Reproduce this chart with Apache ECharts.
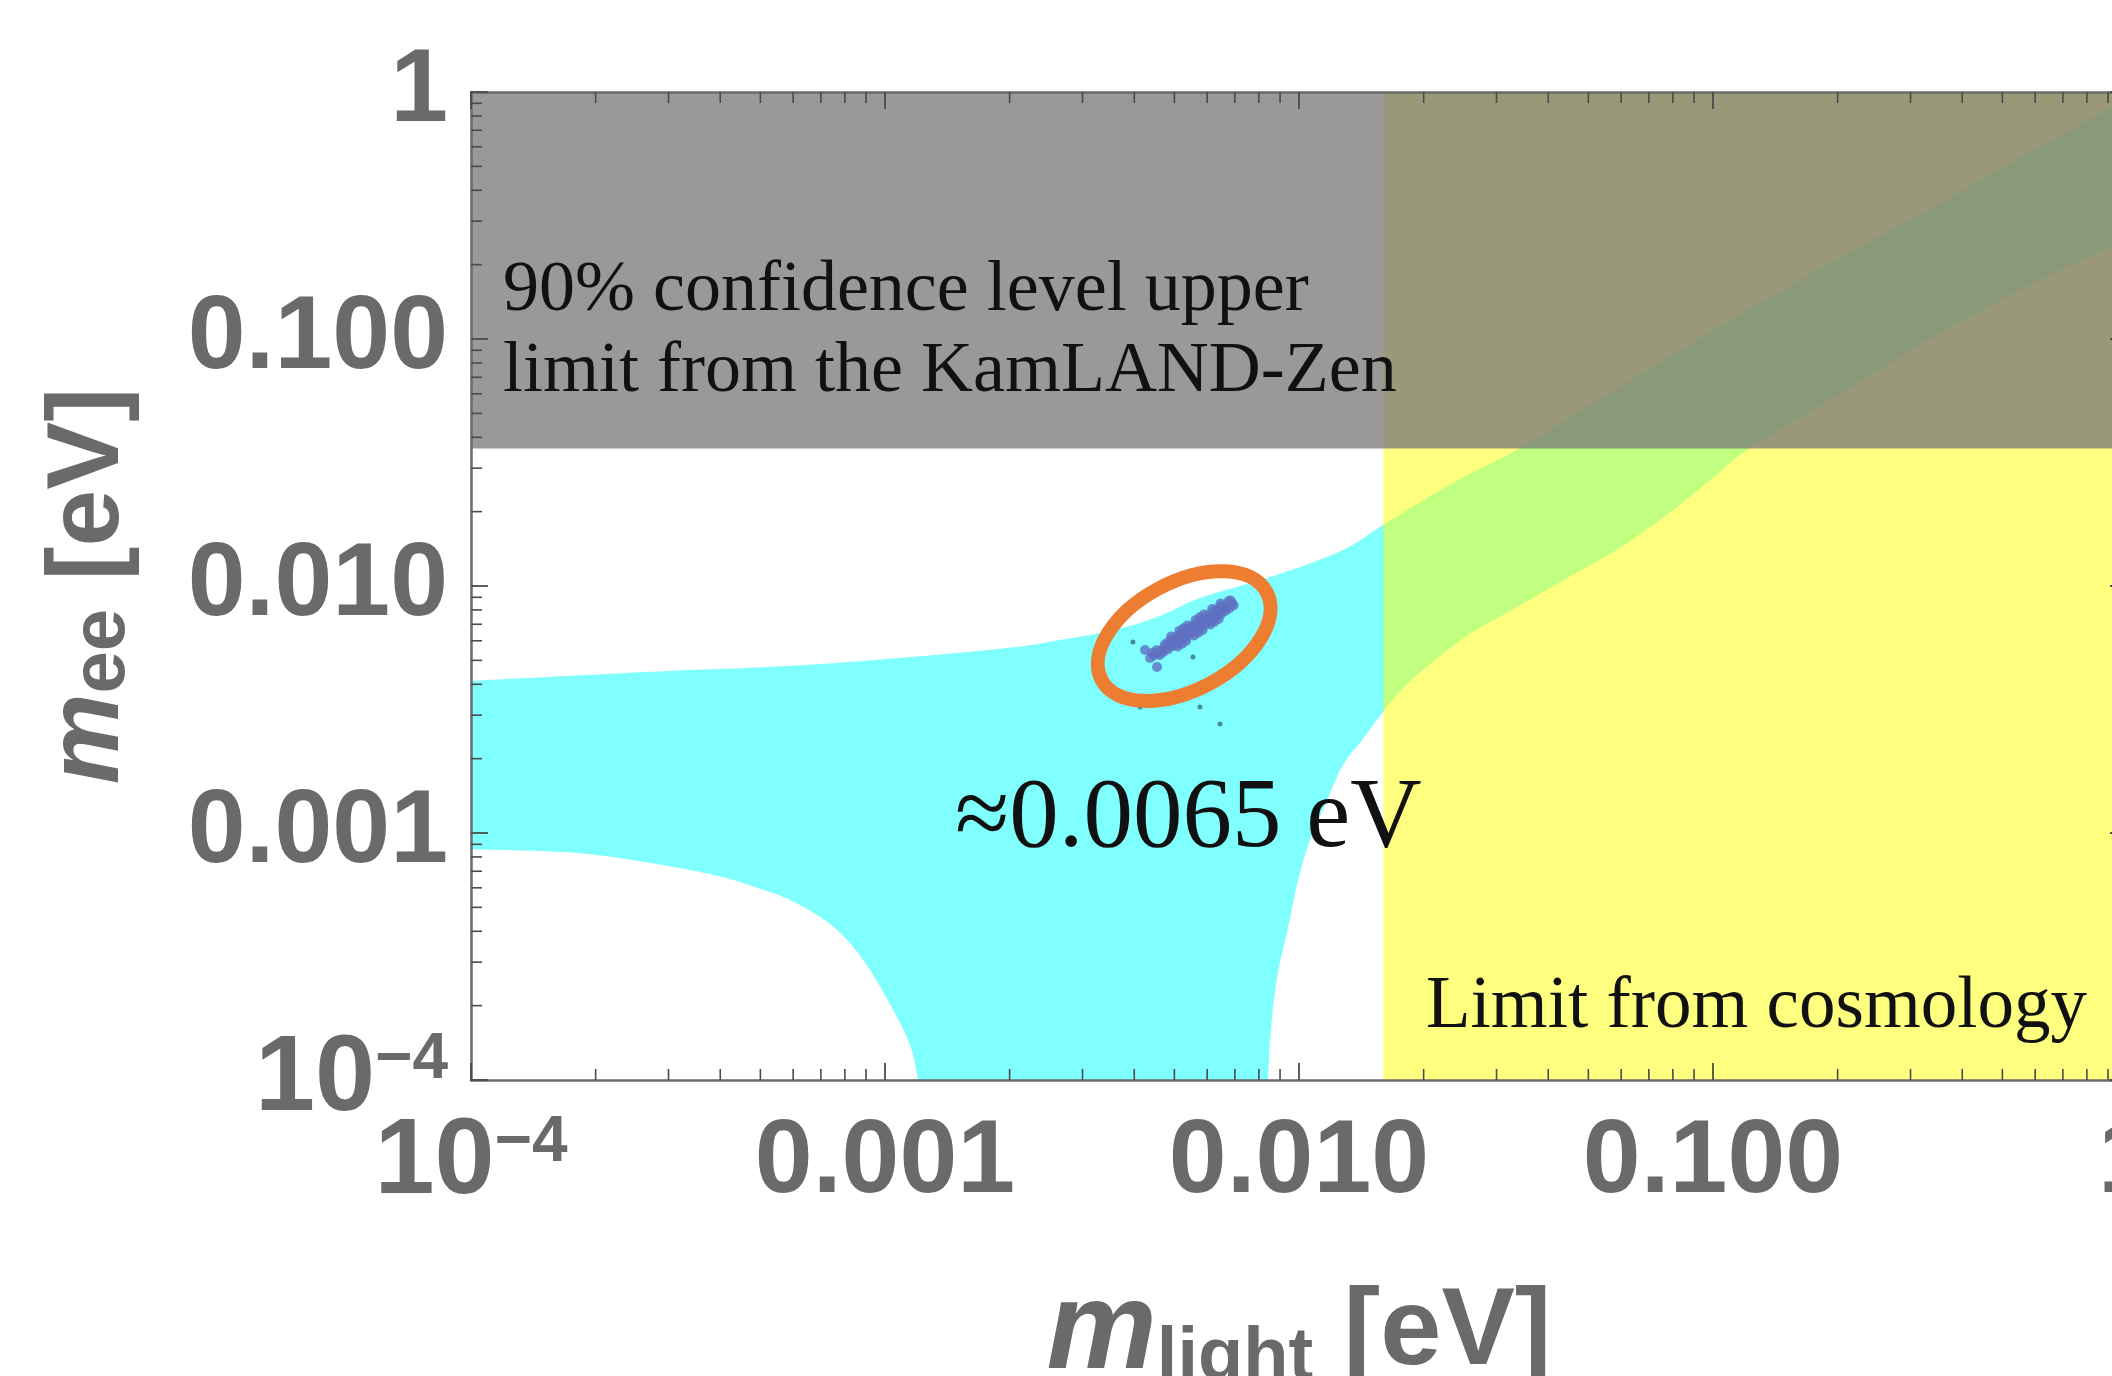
<!DOCTYPE html>
<html>
<head>
<meta charset="utf-8">
<title>m_ee vs m_light</title>
<script src="https://cdn.jsdelivr.net/npm/echarts@6.0.0/dist/echarts.min.js"></script>
<style>
  html, body { margin: 0; padding: 0; background: #fff; }
  #chart { width: 2112px; height: 1376px; }
</style>
</head>
<body>
<div id="chart"></div>
<script>
  // tick values and labels (both axes are log10, 1e-4 .. 1 eV)
  const tickValues = [1e-4, 1e-3, 1e-2, 1e-1, 1];
  const xTickLabels = ['{b|10}{sup|−4}', '0.001', '0.010', '0.100', '1'];
  const yTickLabels = ['{b|10}{sup|−4}', '0.001', '0.010', '0.100', '1'];
  const minorMantissas = [2, 3, 4, 5, 6, 7, 8, 9];
  const minorDecades = [1e-4, 1e-3, 1e-2, 1e-1];

  // allowed band, [m_light, m_ee] in eV
  const bandUpper = [
    [1e-4, 0.004124], [2.647e-4, 0.004485], [7.045e-4, 0.004833], [0.001875, 0.005556],
    [0.002647, 0.006044], [0.003594, 0.006636], [0.004616, 0.00756], [0.005765, 0.008943],
    [0.008511, 0.01087], [0.01256, 0.0138], [0.01595, 0.01766], [0.02061, 0.02293],
    [0.02603, 0.02868], [0.03418, 0.0362], [0.07447, 0.08069], [0.1622, 0.1733],
    [0.3534, 0.3553], [0.6775, 0.6574], [1, 0.937]
  ];
  const bandLowerRight = [
    [1, 0.2564], [0.92, 0.2379], [0.5963, 0.1685], [0.3534, 0.1057], [0.2107, 0.06216],
    [0.1229, 0.0362], [0.1006, 0.02762], [0.08006, 0.02031], [0.05995, 0.01438],
    [0.04489, 0.01087], [0.03362, 0.008222], [0.02603, 0.006451], [0.02131, 0.005017],
    [0.01793, 0.003901], [0.01595, 0.00309], [0.0142, 0.002379], [0.01277, 0.001885],
    [0.01156, 0.001298], [0.01063, 9.368e-4], [0.009945, 6.452e-4], [0.009406, 4.124e-4],
    [0.008848, 2.588e-4], [0.008557, 1.609e-4], [0.008417, 1e-4]
  ];
  const bandLowerLeft = [
    [0.001202, 1e-4], [0.00115, 1.381e-4], [0.001042, 1.946e-4], [9.15e-4, 2.829e-4],
    [8.031e-4, 3.747e-4], [7.049e-4, 4.519e-4], [5.988e-4, 5.28e-4], [5.085e-4, 5.888e-4],
    [3.669e-4, 6.888e-4], [1.911e-4, 8.222e-4], [1e-4, 8.566e-4]
  ];

  const kamlandLimit = 0.036;   // m_ee upper limit
  const cosmologyLimit = 0.016; // m_light upper limit

  // scan points
  const scanPoints = [
    [0.00437, 0.00511], [0.00447, 0.00524], [0.00457, 0.00538], [0.00467, 0.00552],
    [0.00478, 0.00566], [0.00489, 0.00581], [0.005, 0.00596], [0.00512, 0.00612],
    [0.00524, 0.00628], [0.00536, 0.00644], [0.00548, 0.00661], [0.00561, 0.00678],
    [0.00574, 0.00695], [0.00587, 0.00713], [0.006, 0.00732], [0.00614, 0.00751],
    [0.00628, 0.0077], [0.00643, 0.0079], [0.00658, 0.00811], [0.00673, 0.00832],
    [0.00689, 0.00854],
    [0.00461, 0.00526], [0.00453, 0.0055], [0.00482, 0.00553], [0.00474, 0.00579],
    [0.00505, 0.00582], [0.00496, 0.0061], [0.00529, 0.00614], [0.00519, 0.00643],
    [0.00553, 0.00646], [0.00543, 0.00676], [0.00579, 0.00679], [0.00569, 0.00711],
    [0.00606, 0.00715], [0.00595, 0.00749], [0.00634, 0.00752], [0.00622, 0.00788],
    [0.00664, 0.00792], [0.00652, 0.0083], [0.00679, 0.00813], [0.00683, 0.00874],
    [0.00522, 0.00584], [0.00526, 0.00675], [0.00571, 0.00647], [0.00576, 0.00747],
    [0.00625, 0.00717], [0.004246, 0.005508], [0.004539, 0.004699],
    [0.00695, 0.00835], [0.00675, 0.00865],
    [0.00492, 0.00569], [0.00484, 0.00594], [0.00516, 0.00599], [0.00507, 0.00625],
    [0.0054, 0.0063], [0.00531, 0.0066], [0.00566, 0.00662], [0.00556, 0.00694],
    [0.00592, 0.00697], [0.00582, 0.0073], [0.0062, 0.00733], [0.00608, 0.00768],
    [0.00648, 0.00771], [0.00637, 0.00809], [0.00442, 0.00535], [0.0047, 0.00541],
    [0.00509, 0.00569], [0.00491, 0.00624], [0.00534, 0.00599], [0.00514, 0.00658],
    [0.00558, 0.00631], [0.00538, 0.00692], [0.00585, 0.00663], [0.00563, 0.00728],
    [0.00611, 0.00699], [0.00589, 0.00767], [0.0064, 0.00735], [0.00617, 0.00807],
    [0.00646, 0.0085]
  ];
  const strayPoints = [
    [0.003972, 0.005935], [0.005546, 0.00516], [0.00413, 0.003236],
    [0.005765, 0.003236], [0.006446, 0.002762]
  ];
  const ellipseCenter = [0.00528, 0.00627];

  const xMin = 1e-4, xMax = 1, yMin = 1e-4, yMax = 1;
  const axisColor = '#6b6b6b';
  const tickColor = '#4a4a4a';
  const labelColor = '#6a6a6a';
  const sans = '"Liberation Sans", Arial, sans-serif';
  const serif = '"Liberation Serif", "Times New Roman", serif';

  const minorTicks = [];
  minorDecades.forEach(function (d) {
    minorMantissas.forEach(function (m) { minorTicks.push(m * d); });
  });

  function tickFormatter(labels) {
    return function (v) {
      const i = tickValues.findIndex(function (t) {
        return Math.abs(Math.log10(t) - Math.log10(v)) < 1e-6;
      });
      return i >= 0 ? labels[i] : '';
    };
  }

  const labelRich = {
    b: { fontSize: 108, lineHeight: 104, fontWeight: 'bold', fontFamily: sans, color: labelColor },
    sup: { fontSize: 64, lineHeight: 56, fontWeight: 'bold', fontFamily: sans, color: labelColor, verticalAlign: 'top' }
  };

  // catmull-rom through pixel points, as path commands
  function smoothSection(p, first) {
    let d = (first ? 'M' : 'L') + p[0][0] + ' ' + p[0][1];
    for (let i = 0; i < p.length - 1; i++) {
      const p0 = p[i - 1] || p[i], p1 = p[i], p2 = p[i + 1], p3 = p[i + 2] || p[i + 1];
      d += ' C' + (p1[0] + (p2[0] - p0[0]) / 6) + ' ' + (p1[1] + (p2[1] - p0[1]) / 6) +
        ' ' + (p2[0] - (p3[0] - p1[0]) / 6) + ' ' + (p2[1] - (p3[1] - p1[1]) / 6) +
        ' ' + p2[0] + ' ' + p2[1];
    }
    return d;
  }

  function rectItem(x0, y0, x1, y1, color) {
    return function (params, api) {
      const a = api.coord([x0, y0]);
      const b = api.coord([x1, y1]);
      return {
        type: 'rect',
        shape: {
          x: Math.min(a[0], b[0]), y: Math.min(a[1], b[1]),
          width: Math.abs(b[0] - a[0]), height: Math.abs(b[1] - a[1])
        },
        style: { fill: color }
      };
    };
  }

  const minorLen = 11;
  const minorStyle = { stroke: tickColor, lineWidth: 1.6 };

  function axisBase(extra) {
    return Object.assign({
      type: 'log', logBase: 10, z: 10,
      axisLine: { show: true, lineStyle: { color: axisColor, width: 2.5 } },
      axisTick: { show: true, inside: true, length: 17, lineStyle: { color: tickColor, width: 1.8 } },
      splitLine: { show: false },
      axisLabel: { show: false }
    }, extra);
  }

  const chart = echarts.init(document.getElementById('chart'));
  const option = {
    animation: false,
    backgroundColor: '#fff',
    grid: { left: 471, top: 92, width: 1656, height: 988, outerBoundsMode: 'none' },
    xAxis: [
      axisBase({
        min: xMin, max: xMax, position: 'bottom',
        axisLabel: {
          margin: 31, color: labelColor, fontFamily: sans, fontWeight: 'bold', fontSize: 104,
          showMinLabel: true, showMaxLabel: true,
          formatter: tickFormatter(xTickLabels), rich: labelRich
        },
        name: '{m|m}{sub|light}{n| [eV]}',
        nameLocation: 'middle',
        nameGap: 192,
        nameTextStyle: {
          rich: {
            m: { fontSize: 124, fontWeight: 'bold', fontStyle: 'italic', fontFamily: sans, color: labelColor },
            sub: { fontSize: 74, lineHeight: 54, fontWeight: 'bold', fontFamily: sans, color: labelColor, verticalAlign: 'bottom' },
            n: { fontSize: 110, fontWeight: 'bold', fontFamily: sans, color: labelColor }
          }
        }
      }),
      axisBase({ min: xMin, max: xMax, position: 'top' })
    ],
    yAxis: [
      axisBase({
        min: yMin, max: yMax, position: 'left',
        axisLabel: {
          margin: 23, color: labelColor, fontFamily: sans, fontWeight: 'bold', fontSize: 104,
          showMinLabel: true, showMaxLabel: true,
          formatter: tickFormatter(yTickLabels), rich: labelRich
        },
        name: '{m|m}{sub|ee}{n| [eV]}',
        nameLocation: 'middle',
        nameGap: 330,
        nameTextStyle: {
          rich: {
            m: { fontSize: 102, fontWeight: 'bold', fontStyle: 'italic', fontFamily: sans, color: labelColor },
            sub: { fontSize: 76, lineHeight: 60, fontWeight: 'bold', fontFamily: sans, color: labelColor, verticalAlign: 'bottom' },
            n: { fontSize: 102, fontWeight: 'bold', fontFamily: sans, color: labelColor }
          }
        }
      }),
      axisBase({ min: yMin, max: yMax, position: 'right' })
    ],
    series: [
      {
        // allowed band
        type: 'custom', z: 1, silent: true,
        data: [bandUpper[0]],
        renderItem: function (params, api) {
          const toPx = function (p) { return api.coord(p); };
          const d = smoothSection(bandUpper.map(toPx), true) + ' ' +
            smoothSection(bandLowerRight.map(toPx), false) + ' ' +
            smoothSection(bandLowerLeft.map(toPx), false) + ' Z';
          return { type: 'path', shape: { pathData: d }, style: { fill: '#80ffff' } };
        }
      },
      {
        // cosmology
        type: 'custom', z: 2, silent: true,
        data: [[cosmologyLimit, yMin]],
        renderItem: rectItem(cosmologyLimit, yMin, xMax, yMax, 'rgba(255,255,0,0.5)')
      },
      {
        // KamLAND-Zen
        type: 'custom', z: 3, silent: true,
        data: [[xMin, kamlandLimit]],
        renderItem: rectItem(xMin, kamlandLimit, xMax, yMax, 'rgba(120,120,120,0.756)')
      },
      {
        type: 'scatter', z: 5, silent: true,
        symbolSize: 10,
        itemStyle: { color: '#5f70c2' },
        data: scanPoints
      },
      {
        type: 'scatter', z: 5, silent: true,
        symbolSize: 5,
        itemStyle: { color: '#3d6a99' },
        data: strayPoints
      },
      {
        type: 'custom', z: 6, silent: true,
        data: [ellipseCenter],
        renderItem: function (params, api) {
          const c = api.coord(ellipseCenter);
          return {
            type: 'ellipse',
            x: c[0], y: c[1],
            rotation: 28 * Math.PI / 180,
            shape: { cx: 0, cy: 0, rx: 93.5, ry: 54 },
            style: { fill: 'none', stroke: '#ed7d31', lineWidth: 14 }
          };
        }
      },
      {
        // minor x ticks, bottom and top
        type: 'custom', z: 11, silent: true,
        data: minorTicks.map(function (v) { return [v, yMin]; }),
        renderItem: function (params, api) {
          const v = api.value(0);
          const b = api.coord([v, yMin]);
          const t = api.coord([v, yMax]);
          return {
            type: 'group',
            children: [
              { type: 'line', shape: { x1: b[0], y1: b[1], x2: b[0], y2: b[1] - minorLen }, style: minorStyle },
              { type: 'line', shape: { x1: t[0], y1: t[1], x2: t[0], y2: t[1] + minorLen }, style: minorStyle }
            ]
          };
        }
      },
      {
        // minor y ticks, left and right
        type: 'custom', z: 11, silent: true,
        data: minorTicks.map(function (v) { return [xMin, v]; }),
        renderItem: function (params, api) {
          const v = api.value(1);
          const l = api.coord([xMin, v]);
          const r = api.coord([xMax, v]);
          return {
            type: 'group',
            children: [
              { type: 'line', shape: { x1: l[0], y1: l[1], x2: l[0] + minorLen, y2: l[1] }, style: minorStyle },
              { type: 'line', shape: { x1: r[0], y1: r[1], x2: r[0] - minorLen, y2: r[1] }, style: minorStyle }
            ]
          };
        }
      }
    ],
    graphic: [
      {
        type: 'text', x: 503, y: 291, z: 100, silent: true,
        style: { text: '90% confidence level upper', font: '72px ' + serif, fill: '#111', align: 'left', verticalAlign: 'middle' }
      },
      {
        type: 'text', x: 503, y: 372, z: 100, silent: true,
        style: { text: 'limit from the KamLAND-Zen', font: '72px ' + serif, fill: '#111', align: 'left', verticalAlign: 'middle' }
      },
      {
        type: 'text', x: 955, y: 820, z: 100, silent: true,
        style: { text: '≈0.0065 eV', font: '99px ' + serif, fill: '#111', align: 'left', verticalAlign: 'middle' }
      },
      {
        type: 'text', x: 1426, y: 1008, z: 100, silent: true,
        style: { text: 'Limit from cosmology', font: '73px ' + serif, fill: '#111', align: 'left', verticalAlign: 'middle' }
      }
    ]
  };
  chart.setOption(option);
</script>
</body>
</html>
